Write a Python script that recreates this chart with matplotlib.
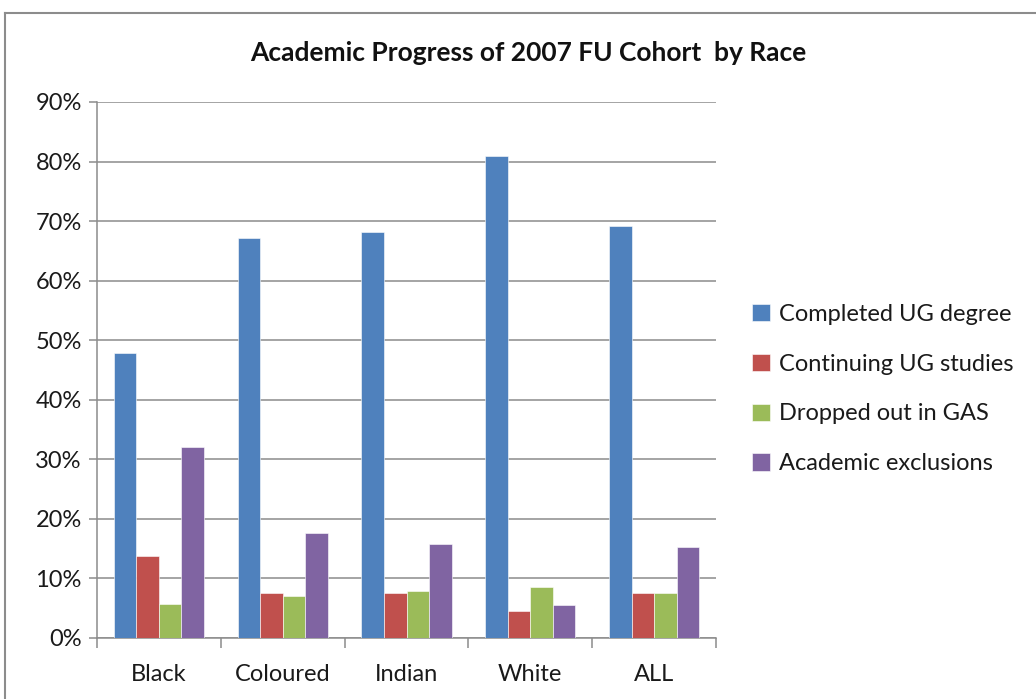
import matplotlib
matplotlib.use("Agg")
import matplotlib.pyplot as plt
import numpy as np
from matplotlib.lines import Line2D

categories = ["Black", "Coloured", "Indian", "White", "ALL"]
series_names = ["Completed UG degree", "Continuing UG studies",
                "Dropped out in GAS", "Academic exclusions"]
completed = [47.8, 67.2, 68.1, 80.9, 69.2]
continuing = [13.7, 7.5, 7.5, 4.5, 7.5]
dropped = [5.7, 7.1, 7.9, 8.6, 7.5]
exclusions = [32.1, 17.7, 15.7, 5.6, 15.3]
colors = ["#4f81bd", "#c0504d", "#9bbb59", "#8064a2"]
yticks = [0, 10, 20, 30, 40, 50, 60, 70, 80, 90]

W, H = 1036, 699
fig = plt.figure(figsize=(W / 100, H / 100), dpi=100)
plt.rcParams["font.family"] = ["Lato", "DejaVu Sans"]
FS = 17

# outer chart frame (top and left edges visible)
fig.add_artist(Line2D([5 / W, 1], [1 - 13 / H, 1 - 13 / H], color="#8c8c8c", lw=1.5))
fig.add_artist(Line2D([5 / W, 5 / W], [0, 1 - 13 / H], color="#8c8c8c", lw=1.5))

x0, x1, ytop, ybot = 97, 716, 102, 638
ax = fig.add_axes([x0 / W, 1 - ybot / H, (x1 - x0) / W, (ybot - ytop) / H])

values = [completed, continuing, dropped, exclusions]
n = len(values)
bw = 1 / 5.5
x = np.arange(len(categories))
for i, (vals, c, name) in enumerate(zip(values, colors, series_names)):
    ax.bar(x + (i - (n - 1) / 2) * bw, vals, width=bw, color=c, label=name,
           edgecolor="white", linewidth=0.4, zorder=3)

ax.set_xlim(-0.5, len(categories) - 0.5)
ax.set_ylim(0, 90)
ax.set_yticks(yticks)
ax.set_yticklabels([f"{v}%" for v in yticks], fontsize=FS, color="#1a1a1a")
ax.yaxis.grid(True, color="#8c8c8c", lw=1.1, zorder=0)
ax.set_xticks(x)
ax.set_xticklabels(categories, fontsize=FS, color="#1a1a1a")
ax.tick_params(axis="x", length=0, pad=19)
ax.set_xticks(np.arange(-0.5, len(categories), 1), minor=True)
ax.tick_params(axis="x", which="minor", length=7, color="#8c8c8c", width=1.1)
ax.tick_params(axis="y", length=6, color="#8c8c8c", width=1.1, pad=5)
for s in ["top", "right"]:
    ax.spines[s].set_visible(False)
for s in ["left", "bottom"]:
    ax.spines[s].set_color("#8c8c8c")
    ax.spines[s].set_linewidth(1.1)

fig.text(528 / W, 1 - 53 / H, "Academic Progress of 2007 FU Cohort  by Race",
         ha="center", va="center", fontsize=19, fontweight="bold", color="#111111")

leg = ax.legend(loc="center left", bbox_to_anchor=(752 / W, 1 - 389 / H),
                bbox_transform=fig.transFigure, frameon=False, fontsize=FS,
                handlelength=0.75, handleheight=0.75, handletextpad=0.4,
                labelspacing=1.22, borderaxespad=0, borderpad=0)
for t in leg.get_texts():
    t.set_color("#1a1a1a")

fig.savefig("out.png", dpi=100, facecolor="white")
